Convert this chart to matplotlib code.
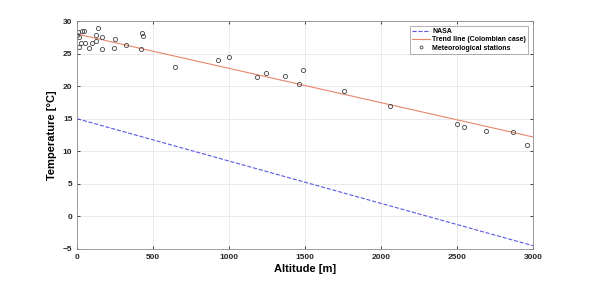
import numpy as np
from matplotlib import pyplot as plt

plt.rcParams['font.family'] = ['Liberation Sans', 'DejaVu Sans']
plt.rcParams['font.weight'] = 'bold'

# meteorological stations (altitude m, temperature C)
alt = [0, 5, 11, 9, 24, 33, 46, 51, 81, 99, 125, 125, 136, 162, 162, 243, 248,
       322, 419, 426, 434, 647, 928, 1002, 1186, 1243, 1366, 1458, 1489, 1757,
       2059, 2498, 2546, 2689, 2868, 2959]
temp = [27.85, 28.3, 27.5, 26.0, 26.6, 28.5, 28.5, 26.6, 25.9, 26.6, 27.0, 27.9,
        29.0, 27.5, 25.7, 25.8, 27.2, 26.4, 25.7, 28.2, 27.7, 22.9, 24.0, 24.5,
        21.4, 22.1, 21.5, 20.3, 22.5, 19.3, 17.0, 14.2, 13.7, 13.1, 12.9, 11.0]

line_alt = [0, 3000]
nasa = [15.0, -4.5]
trend = [28.0, 12.2]

fig = plt.figure(figsize=(5.89, 2.81), dpi=100)
ax = fig.add_axes([0.131, 0.114, 0.774, 0.811])

ax.plot(line_alt, nasa, color='#5a5ae0', linestyle='--', linewidth=0.8, label='NASA')
ax.plot(line_alt, trend, color='#e8866a', linewidth=0.8, label='Trend line (Colombian case)')
ax.plot(alt, temp, linestyle='none', marker='o', markersize=3, markerfacecolor='none',
        markeredgecolor='#444444', markeredgewidth=0.6, label='Meteorological stations')

ax.set_xlim(0, 3000)
ax.set_ylim(-5, 30)
ax.set_xticks(np.arange(0, 3001, 500))
ax.set_yticks(np.arange(-5, 31, 5))
ax.grid(True, color='#e6e6e6', linewidth=0.6)
ax.set_axisbelow(True)
ax.tick_params(direction='in', length=2, width=0.6, labelsize=6, colors='#262626',
               top=True, right=True)
for s in ax.spines.values():
    s.set_color('#8c8c8c')
    s.set_linewidth(0.6)

ax.set_xlabel('Altitude [m]', fontsize=8, fontweight='bold', labelpad=2)
ax.set_ylabel('Temperature [\u00b0C]', fontsize=8, fontweight='bold', labelpad=4)

leg = ax.legend(loc='upper right', fontsize=5, frameon=True, fancybox=False,
                borderpad=0.3, labelspacing=0.2, handlelength=2.6, handletextpad=0.3,
                borderaxespad=0.7, markerscale=0.7)
leg.get_frame().set_edgecolor('#8c8c8c')
leg.get_frame().set_linewidth(0.6)

fig.savefig('out.png', dpi=100)
